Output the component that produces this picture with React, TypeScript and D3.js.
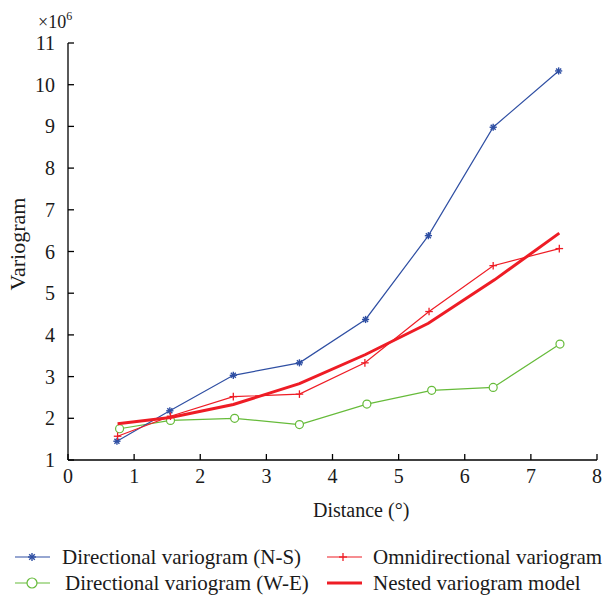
import React from 'react'
import * as d3 from 'd3'

const distNS = [0.74, 1.54, 2.5, 3.5, 4.5, 5.45, 6.43, 7.42]
const valNS = [1.45, 2.18, 3.03, 3.33, 4.37, 6.38, 8.98, 10.33]

const distOmni = [0.75, 1.55, 2.5, 3.5, 4.49, 5.46, 6.43, 7.43]
const valOmni = [1.57, 2.05, 2.52, 2.58, 3.33, 4.56, 5.66, 6.07]

const distWE = [0.78, 1.55, 2.52, 3.5, 4.52, 5.5, 6.43, 7.44]
const valWE = [1.75, 1.95, 2.0, 1.85, 2.34, 2.67, 2.74, 3.78]

const distModel = [0.75, 1.55, 2.5, 3.5, 4.5, 5.45, 6.45, 7.43]
const valModel = [1.87, 2.02, 2.33, 2.83, 3.53, 4.28, 5.32, 6.44]

const xTicks = [0, 1, 2, 3, 4, 5, 6, 7, 8]
const yTicks = [1, 2, 3, 4, 5, 6, 7, 8, 9, 10, 11]

const BLUE = '#2f4fa3'
const RED = '#ee1c25'
const GREEN = '#66bb3a'
const FONT = "'Liberation Serif'"

const margin = { left: 68, top: 43 }
const plotW = 529
const plotH = 417

const x = d3.scaleLinear().domain([0, 8]).range([margin.left, margin.left + plotW])
const y = d3.scaleLinear().domain([1, 11]).range([margin.top + plotH, margin.top])

const toPts = (xs: number[], ys: number[]) => xs.map((d, i) => [d, ys[i]] as [number, number])
const line = d3.line<[number, number]>().x(d => x(d[0])).y(d => y(d[1]))

const Star = ({ cx, cy, s = 4 }: { cx: number; cy: number; s?: number }) => (
  <g stroke={BLUE} strokeWidth={1.4}>
    <line x1={cx - s} y1={cy} x2={cx + s} y2={cy} />
    <line x1={cx} y1={cy - s} x2={cx} y2={cy + s} />
    <line x1={cx - s * 0.7} y1={cy - s * 0.7} x2={cx + s * 0.7} y2={cy + s * 0.7} />
    <line x1={cx - s * 0.7} y1={cy + s * 0.7} x2={cx + s * 0.7} y2={cy - s * 0.7} />
  </g>
)

const Plus = ({ cx, cy, s = 4 }: { cx: number; cy: number; s?: number }) => (
  <g stroke={RED} strokeWidth={1.3}>
    <line x1={cx - s} y1={cy} x2={cx + s} y2={cy} />
    <line x1={cx} y1={cy - s} x2={cx} y2={cy + s} />
  </g>
)

export default function App() {
  const ns = toPts(distNS, valNS)
  const om = toPts(distOmni, valOmni)
  const we = toPts(distWE, valWE)
  const md = toPts(distModel, valModel)
  const x0 = margin.left
  const yb = margin.top + plotH
  const txt = { fontFamily: FONT }
  return (
    <svg width={611} height={599} style={{ position: 'absolute', left: 0, top: 0, background: '#fff' }}>
      {/* axes */}
      <line x1={x0} y1={margin.top} x2={x0} y2={yb} stroke="#000" strokeWidth={1.3} />
      <line x1={x0} y1={yb} x2={x(8)} y2={yb} stroke="#000" strokeWidth={1.3} />
      {yTicks.map(t => (
        <g key={'y' + t}>
          <line x1={x0} x2={x0 + 6} y1={y(t)} y2={y(t)} stroke="#000" strokeWidth={1.3} />
          <text x={x0 - 13} y={y(t)} dy="0.35em" textAnchor="end" fontSize={20} fill="#1a1a1a" style={txt}>{t}</text>
        </g>
      ))}
      {xTicks.map(t => (
        <g key={'x' + t}>
          <line x1={x(t)} x2={x(t)} y1={yb} y2={yb - 6} stroke="#000" strokeWidth={1.3} />
          <text x={x(t)} y={yb + 23} textAnchor="middle" fontSize={20} fill="#1a1a1a" style={txt}>{t}</text>
        </g>
      ))}
      <text x={38} y={28} fontSize={18} fill="#1a1a1a" style={txt}>×10<tspan dy={-8} fontSize={12}>6</tspan></text>
      <text transform={`translate(25,244) rotate(-90)`} textAnchor="middle" fontSize={22} fill="#1a1a1a" style={txt}>Variogram</text>
      <text x={313} y={517} fontSize={20} fill="#1a1a1a" style={txt}>Distance (°)</text>

      {/* series */}
      <path d={line(we) || ''} fill="none" stroke={GREEN} strokeWidth={1.2} />
      {we.map((d, i) => <circle key={'we' + i} cx={x(d[0])} cy={y(d[1])} r={4} fill="#fff" stroke={GREEN} strokeWidth={1.2} />)}
      <path d={line(ns) || ''} fill="none" stroke={BLUE} strokeWidth={1.2} />
      {ns.map((d, i) => <Star key={'ns' + i} cx={x(d[0])} cy={y(d[1])} s={3.6} />)}
      <path d={line(om) || ''} fill="none" stroke={RED} strokeWidth={1.2} />
      {om.map((d, i) => <Plus key={'om' + i} cx={x(d[0])} cy={y(d[1])} s={3.8} />)}
      <path d={line(md) || ''} fill="none" stroke={RED} strokeWidth={3} />

      {/* legend */}
      <g fontSize={21} fill="#1a1a1a">
        <line x1={15} x2={50} y1={557} y2={557} stroke={BLUE} strokeWidth={1.2} />
        <Star cx={32} cy={557} s={4} />
        <text x={62} y={557} dy="0.35em" style={txt}>Directional variogram (N-S)</text>

        <line x1={15} x2={50} y1={583} y2={583} stroke={GREEN} strokeWidth={1.2} />
        <circle cx={32} cy={583} r={5} fill="#fff" stroke={GREEN} strokeWidth={1.2} />
        <text x={65} y={583} dy="0.35em" style={txt}>Directional variogram (W-E)</text>

        <line x1={327} x2={362} y1={557} y2={557} stroke={RED} strokeWidth={1.2} />
        <Plus cx={343} cy={557} s={4} />
        <text x={373} y={557} dy="0.35em" style={txt}>Omnidirectional variogram</text>

        <line x1={327} x2={362} y1={583} y2={583} stroke={RED} strokeWidth={3} />
        <text x={373} y={583} dy="0.35em" style={txt}>Nested variogram model</text>
      </g>
    </svg>
  )
}
